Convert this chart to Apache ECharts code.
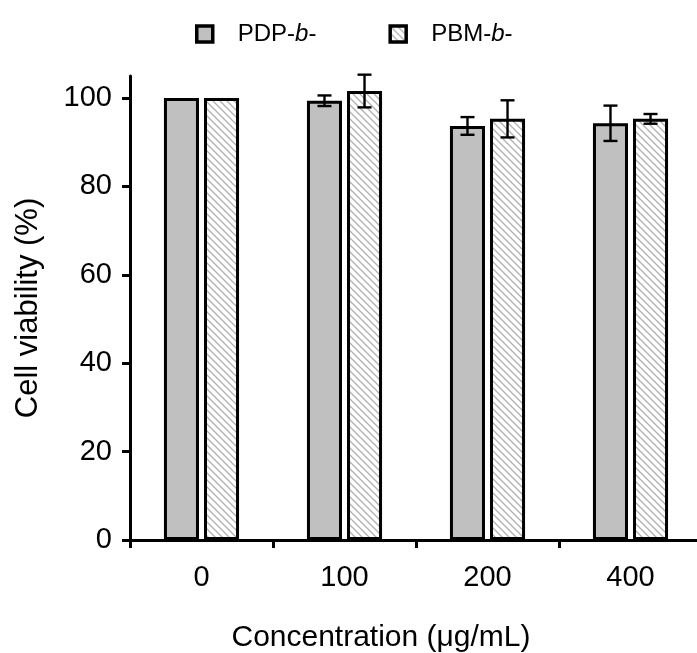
<!DOCTYPE html>
<html>
<head>
<meta charset="utf-8">
<script src="https://cdn.jsdelivr.net/npm/echarts@6/dist/echarts.min.js"></script>
<style>
html,body{margin:0;padding:0;background:#fff;}
#chart{width:697px;height:653px;}
</style>
</head>
<body>
<div id="chart"></div>
<script>
// ---- data ----
const categories = ['0', '100', '200', '400'];
const pdpMean = [100, 99.4, 93.7, 94.3];
const pdpErr = [0, 1.2, 2.0, 4.0];
const pbmMean = [100, 101.6, 95.3, 95.3];
const pbmErr = [0, 3.7, 4.2, 1.1];
const yTicks = [0, 20, 40, 60, 80, 100];

// ---- style ----
const FONT = "'Liberation Sans', Arial, sans-serif";
const BAR_W = 0.245, BAR_GAP = 0.143;

function hatch() {
  const s = 7;
  const c = document.createElement('canvas');
  c.width = s; c.height = s;
  const g = c.getContext('2d');
  g.fillStyle = '#ffffff';
  g.fillRect(0, 0, s, s);
  g.strokeStyle = '#b0b0b0';
  g.lineWidth = 1.3;
  g.beginPath();
  g.moveTo(0, 0); g.lineTo(s, s);
  g.moveTo(-s, 0); g.lineTo(s, 2 * s);
  g.moveTo(0, -s); g.lineTo(2 * s, s);
  g.stroke();
  return c;
}
const pbmFill = { image: hatch(), repeat: 'repeat' };

function errData(mean, err) {
  return mean.map((m, i) => [i, m - err[i], m + err[i], err[i]]);
}
function errRender(sign) {
  return function (params, api) {
    if (api.value(3) <= 0) return null;
    const i = api.value(0);
    const top = api.coord([i, api.value(2)]);
    const bot = api.coord([i, api.value(1)]);
    const band = api.size([1, 0])[0];
    const x = top[0] + sign * band * BAR_W * (1 + BAR_GAP) / 2;
    const cap = 7;
    const st = { stroke: '#000', lineWidth: 2.4 };
    return {
      type: 'group',
      children: [
        { type: 'line', shape: { x1: x, y1: top[1], x2: x, y2: bot[1] }, style: st },
        { type: 'line', shape: { x1: x - cap, y1: top[1], x2: x + cap, y2: top[1] }, style: st },
        { type: 'line', shape: { x1: x - cap, y1: bot[1], x2: x + cap, y2: bot[1] }, style: st }
      ]
    };
  };
}

const chart = echarts.init(document.getElementById('chart'), null, { renderer: 'canvas' });
const rich = {
  n: { fontFamily: FONT, fontSize: 24, color: '#000' },
  i: { fontFamily: FONT, fontSize: 24, color: '#000', fontStyle: 'italic' }
};
chart.setOption({
  animation: false,
  backgroundColor: '#fff',
  textStyle: { fontFamily: FONT },
  legend: {
    top: 17,
    left: 190,
    icon: 'rect',
    itemWidth: 16,
    itemHeight: 16,
    itemGap: 72,
    itemStyle: { borderColor: '#000', borderWidth: 3.5 },
    textStyle: { fontFamily: FONT, fontSize: 24, color: '#000', padding: [0, 0, 0, 20], rich: rich },
    data: ['PDP', 'PBM'],
    formatter: function (name) { return '{n|' + name + '-}{i|b}{n|-}'; }
  },
  grid: { left: 130, right: -5, top: 76, bottom: 113, containLabel: false, outerBoundsMode: 'none' },
  xAxis: {
    type: 'category',
    data: categories,
    name: 'Concentration (μg/mL)',
    nameLocation: 'middle',
    nameGap: 83,
    nameTextStyle: { fontFamily: FONT, fontSize: 30, color: '#000', padding: [0, 70, 0, 0] },
    axisLine: { lineStyle: { color: '#000', width: 3 } },
    axisTick: { show: true, alignWithLabel: false, length: 8, lineStyle: { color: '#000', width: 3 } },
    axisLabel: { fontFamily: FONT, fontSize: 29, color: '#000', margin: 23 }
  },
  yAxis: {
    type: 'value',
    min: 0,
    max: 105,
    interval: 20,
    name: 'Cell viability (%)',
    nameLocation: 'middle',
    nameGap: 86,
    nameTextStyle: { fontFamily: FONT, fontSize: 31, color: '#000' },
    splitLine: { show: false },
    axisLine: { show: true, lineStyle: { color: '#000', width: 3 } },
    axisTick: { show: true, length: 8, lineStyle: { color: '#000', width: 3 }, customValues: yTicks },
    axisLabel: { fontFamily: FONT, fontSize: 29, color: '#000', margin: 18, customValues: yTicks }
  },
  series: [
    {
      name: 'PDP', type: 'bar', data: pdpMean,
      barWidth: (BAR_W * 100) + '%', barGap: (BAR_GAP * 100) + '%',
      itemStyle: { color: '#c0c0c0', borderColor: '#000', borderWidth: 3 }
    },
    {
      name: 'PBM', type: 'bar', data: pbmMean,
      barWidth: (BAR_W * 100) + '%', barGap: (BAR_GAP * 100) + '%',
      itemStyle: { color: pbmFill, borderColor: '#000', borderWidth: 3 }
    },
    { type: 'custom', renderItem: errRender(-1), data: errData(pdpMean, pdpErr), z: 10, silent: true },
    { type: 'custom', renderItem: errRender(1), data: errData(pbmMean, pbmErr), z: 10, silent: true }
  ]
});
</script>
</body>
</html>
